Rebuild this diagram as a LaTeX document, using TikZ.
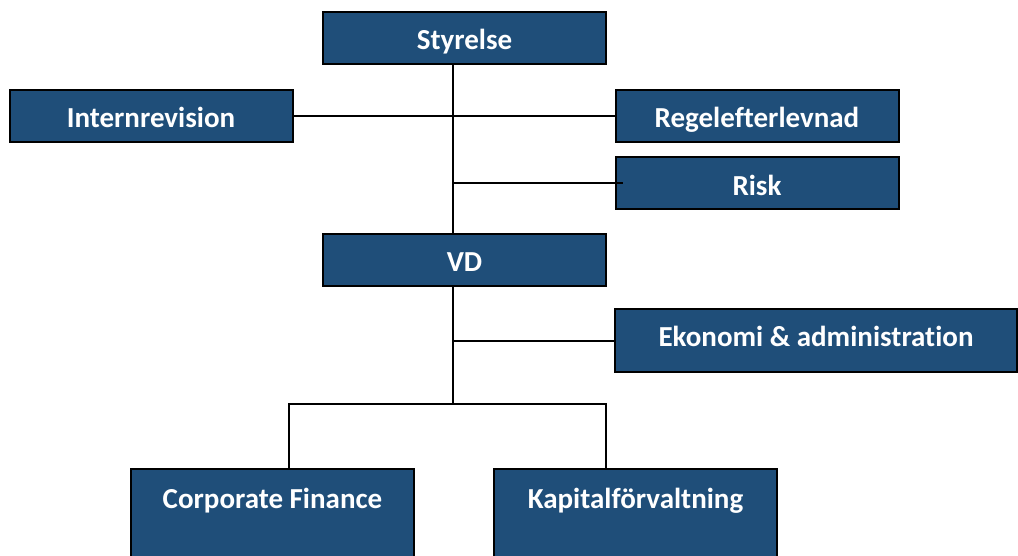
\documentclass[tikz,border=0pt]{standalone}
\usepackage{fontspec}
\setmainfont{Carlito}[Ligatures=NoCommon]
\definecolor{boxblue}{RGB}{31,78,121}

\begin{document}
\begin{tikzpicture}[x=1pt,y=-1pt,
  unit/.style={draw=black,line width=2pt,fill=boxblue,text=white,
    font=\fontsize{29}{33}\selectfont\bfseries,minimum width=283pt,minimum height=52pt,
    inner sep=0pt,text height=28pt,text depth=3.3pt},
  tall/.style={unit,text height=30pt,text depth=62pt,inner ysep=9pt,anchor=north},
  link/.style={line width=2pt}]
\useasboundingbox (0,0) rectangle (1018,555);

\node [unit] at (464.5,37.5) (styrelse) {Styrelse};
\node [unit] at (151,115.5) (intern) {Internrevision};
\node [unit] at (757,115.5) (regel) {Regelefterlevnad};
\node [unit] at (757,183) (risk) {Risk};
\node [unit] at (464.5,259.5) (vd) {VD};
\node [unit,minimum width=402pt,minimum height=63pt,text height=20pt,text depth=7.3pt] at (816,340.5) (ekonomi) {Ekonomi \& administration};
\node [tall] at (272.5,468) (cf) {Corporate Finance};
\node [tall] at (635.5,468) (kap) {Kapitalförvaltning};

\coordinate (trunk) at (453,0);
\coordinate (split) at (453,404);
\coordinate (lft) at (289,404);
\coordinate (rgt) at (606,404);

\draw [link] (styrelse.south -| trunk) to (vd.north -| trunk);
\draw [link] (intern.east) to (regel.west);
\draw [link] (risk.west -| trunk) to ([xshift=8pt]risk.west);
\draw [link] (vd.south -| trunk) to (split);
\draw [link] (ekonomi.west -| trunk) to (ekonomi.west);
\draw [link] (lft |- cf.north) -- (lft) -- (rgt) -- (rgt |- kap.north);

\end{tikzpicture}
\end{document}
